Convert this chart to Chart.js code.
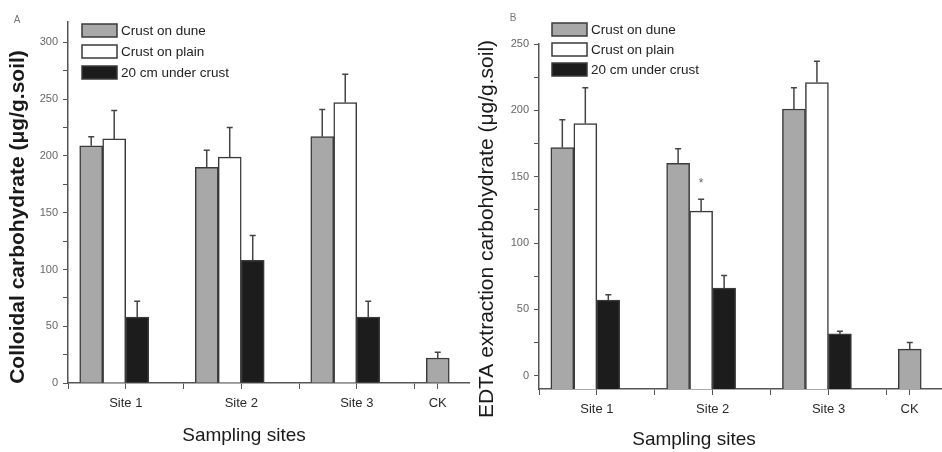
<!DOCTYPE html>
<html><head><meta charset="utf-8">
<script src="https://cdn.jsdelivr.net/npm/chart.js@4/dist/chart.umd.min.js"></script>
<style>
html,body{margin:0;padding:0;background:#fff;}
#wrap{position:relative;width:942px;height:452px;overflow:hidden;}
#cA{position:absolute;left:0;top:0;}
#cB{position:absolute;left:470px;top:0;}
</style></head><body>
<div id="wrap">
<canvas id="cA" width="470" height="452"></canvas>
<canvas id="cB" width="472" height="452"></canvas>
</div>
<script>
// ---------- data ----------
const categories = ['Site 1', 'Site 2', 'Site 3', 'CK'];
const seriesNames = ['Crust on dune', 'Crust on plain', '20 cm under crust'];

// Panel A: colloidal carbohydrate (µg/g soil)
const colloidalDune      = [209, 190, 217, 22];
const colloidalDuneErr   = [8, 15, 24, 5];
const colloidalPlain     = [215, 199, 247, null];
const colloidalPlainErr  = [25, 26, 25, null];
const colloidalUnder     = [58, 108, 58, null];
const colloidalUnderErr  = [14, 22, 14, null];

// Panel B: EDTA extraction carbohydrate (µg/g soil)
const edtaDune      = [172, 160, 201, 20];
const edtaDuneErr   = [21, 11, 16, 5];
const edtaPlain     = [190, 124, 221, null];
const edtaPlainErr  = [27, 9, 16, null];
const edtaUnder     = [57, 66, 31.5, null];
const edtaUnderErr  = [4, 9.5, 2, null];

// tick labels
const yTickLabelsA = [0, 50, 100, 150, 200, 250, 300];
const yTickLabelsB = [0, 50, 100, 150, 200, 250];

// ---------- styling ----------
const FONT = "'Liberation Sans', Arial, Helvetica, sans-serif";
Chart.defaults.font.family = FONT;
const fills = ['#a8a8a8', '#ffffff', '#1c1c1c'];
const edge = '#3a3a3a';
const axisColor = '#555555';

// label placement along the category axis (in category units)
const labelShift = [0.1, 0.1, 0.1, -0.2];
const boundaryShift = 0.6;

function points(values, errs) {
  const out = [];
  values.forEach((v, i) => { if (v !== null) out.push({x: i + 1, y: v, err: errs[i]}); });
  return out;
}

function makeDatasets(vals, errs, base) {
  return vals.map((v, k) => ({
    label: seriesNames[k],
    data: points(v, errs[k]),
    backgroundColor: fills[k],
    borderColor: edge,
    borderWidth: 1.5,
    barThickness: 23,
    base: base
  }));
}

const errorBars = {
  id: 'errorBars',
  afterDatasetsDraw(chart, args, o) {
    const ctx = chart.ctx, ys = chart.scales.y;
    ctx.save();
    ctx.strokeStyle = o.color; ctx.lineWidth = o.width;
    chart.data.datasets.forEach((ds, di) => {
      const meta = chart.getDatasetMeta(di);
      ds.data.forEach((p, j) => {
        if (p.err == null) return;
        const bar = meta.data[j];
        const top = ys.getPixelForValue(p.y + p.err);
        ctx.beginPath();
        ctx.moveTo(bar.x, bar.y); ctx.lineTo(bar.x, top);
        ctx.moveTo(bar.x - o.cap, top); ctx.lineTo(bar.x + o.cap, top);
        ctx.stroke();
      });
    });
    (o.marks || []).forEach(m => {
      const p = chart.data.datasets[m.dataset].data[m.index];
      const bar = chart.getDatasetMeta(m.dataset).data[m.index];
      const top = ys.getPixelForValue(p.y + p.err);
      ctx.fillStyle = '#666'; ctx.font = '12px ' + FONT;
      ctx.textAlign = 'center'; ctx.textBaseline = 'middle';
      ctx.fillText(m.text, bar.x, top - 16);
    });
    ctx.restore();
  }
};

const boxLegend = {
  id: 'boxLegend',
  afterDraw(chart, args, o) {
    const ctx = chart.ctx;
    ctx.save();
    ctx.font = o.font; ctx.textAlign = 'left'; ctx.textBaseline = 'middle';
    chart.data.datasets.forEach((ds, i) => {
      const y = o.top + i * o.rowGap;
      ctx.fillStyle = ds.backgroundColor;
      ctx.fillRect(o.left, y, o.boxWidth, o.boxHeight);
      ctx.lineWidth = 1.5; ctx.strokeStyle = ds.borderColor;
      ctx.strokeRect(o.left, y, o.boxWidth, o.boxHeight);
      ctx.fillStyle = '#222';
      ctx.fillText(ds.label, o.left + o.boxWidth + 4, y + o.boxHeight / 2 + 1);
    });
    ctx.restore();
  }
};

const axisTitles = {
  id: 'axisTitles',
  afterDraw(chart, args, o) {
    const ctx = chart.ctx;
    ctx.save();
    ctx.fillStyle = '#1a1a1a'; ctx.textAlign = 'center'; ctx.textBaseline = 'middle';
    ctx.font = o.xFont; ctx.fillText(o.xText, o.xX, o.xY);
    ctx.save(); ctx.translate(o.yX, o.yY); ctx.rotate(-Math.PI / 2);
    ctx.font = o.yFont; ctx.fillText(o.yText, 0, 0); ctx.restore();
    ctx.fillStyle = '#777'; ctx.font = '10px ' + FONT;
    ctx.fillText(o.letter, o.lX, o.lY);
    ctx.restore();
  }
};

function xTickValues() {
  const t = [];
  categories.forEach((c, i) => {
    t.push(i + boundaryShift);
    t.push(i + 1 + labelShift[i]);
  });
  return t.sort((a, b) => a - b);
}
function xLabel(v) {
  for (let i = 0; i < categories.length; i++) {
    if (Math.abs(v - (i + 1 + labelShift[i])) < 1e-6) return categories[i];
  }
  return '';
}

function makeChart(id, cfg) {
  return new Chart(document.getElementById(id), {
    type: 'bar',
    data: { datasets: makeDatasets(cfg.vals, cfg.errs, cfg.yMin) },
    plugins: [errorBars, boxLegend, axisTitles],
    options: {
      responsive: false, animation: false, devicePixelRatio: 1,
      layout: { padding: { top: cfg.top, left: 0, right: 0, bottom: 0 } },
      scales: {
        x: {
          type: 'linear', min: 0.6, max: 4.08, offset: false,
          grid: { drawOnChartArea: false, drawTicks: true, tickLength: 6, color: axisColor, offset: false },
          border: { display: true, color: axisColor, width: 1.5 },
          afterBuildTicks: s => { s.ticks = xTickValues().map(v => ({value: v})); },
          ticks: { autoSkip: false, maxRotation: 0, minRotation: 0, padding: 7,
                   color: '#2a2a2a', font: { size: 13 }, callback: v => xLabel(v) },
          afterFit: s => { s.height = cfg.xHeight; }
        },
        y: {
          min: cfg.yMin, max: cfg.yMax,
          grid: { drawOnChartArea: false, tickLength: 5, color: axisColor },
          border: { display: true, color: axisColor, width: 1.5 },
          ticks: { stepSize: 25, includeBounds: false, padding: 5, color: '#666',
                   font: { size: 11 },
                   callback: v => cfg.yLabels.includes(v) ? String(v) : '' },
          afterFit: s => { s.width = cfg.yWidth; }
        }
      },
      plugins: {
        legend: { display: false },
        tooltip: { enabled: false },
        errorBars: { color: '#444', width: 1.5, cap: 3, marks: cfg.marks },
        boxLegend: { left: 82, top: cfg.legendTop, rowGap: cfg.rowGap, boxWidth: 35, boxHeight: 13,
                     font: '13.5px ' + FONT },
        axisTitles: cfg.titles
      }
    }
  });
}

makeChart('cA', {
  vals: [colloidalDune, colloidalPlain, colloidalUnder],
  errs: [colloidalDuneErr, colloidalPlainErr, colloidalUnderErr],
  yMin: 0, yMax: 318, yLabels: yTickLabelsA,
  top: 22, xHeight: 69, yWidth: 68,
  legendTop: 24, rowGap: 21, marks: [],
  titles: { xText: 'Sampling sites', xX: 244, xY: 436, xFont: '19px ' + FONT,
            yText: 'Colloidal carbohydrate (\u03bcg/g.soil)', yX: 18, yY: 217, yFont: 'bold 21px ' + FONT,
            letter: 'A', lX: 17, lY: 20 }
});

makeChart('cB', {
  vals: [edtaDune, edtaPlain, edtaUnder],
  errs: [edtaDuneErr, edtaPlainErr, edtaUnderErr],
  yMin: -10, yMax: 250, yLabels: yTickLabelsB,
  top: 44, xHeight: 63, yWidth: 69,
  legendTop: 23, rowGap: 20, marks: [{dataset: 1, index: 1, text: '*'}],
  titles: { xText: 'Sampling sites', xX: 224, xY: 440, xFont: '19px ' + FONT,
            yText: 'EDTA extraction carbohydrate (\u03bcg/g.soil)', yX: 17, yY: 229, yFont: '21px ' + FONT,
            letter: 'B', lX: 43, lY: 18 }
});
</script>
</body></html>
